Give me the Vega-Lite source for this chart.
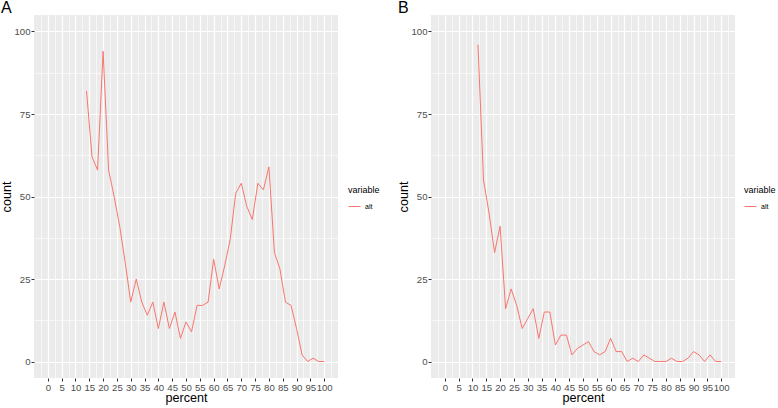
{
  "$schema": "https://vega.github.io/schema/vega-lite/v6.json",
  "padding": 0,
  "background": "white",
  "spacing": 17,
  "datasets": {
    "A": [
      {"percent": 14, "count": 82, "variable": "alt"},
      {"percent": 16, "count": 62, "variable": "alt"},
      {"percent": 18, "count": 58, "variable": "alt"},
      {"percent": 20, "count": 94, "variable": "alt"},
      {"percent": 22, "count": 58, "variable": "alt"},
      {"percent": 24, "count": 50, "variable": "alt"},
      {"percent": 26, "count": 41, "variable": "alt"},
      {"percent": 28, "count": 30, "variable": "alt"},
      {"percent": 30, "count": 18, "variable": "alt"},
      {"percent": 32, "count": 25, "variable": "alt"},
      {"percent": 34, "count": 18, "variable": "alt"},
      {"percent": 36, "count": 14, "variable": "alt"},
      {"percent": 38, "count": 18, "variable": "alt"},
      {"percent": 40, "count": 10, "variable": "alt"},
      {"percent": 42, "count": 18, "variable": "alt"},
      {"percent": 44, "count": 10, "variable": "alt"},
      {"percent": 46, "count": 15, "variable": "alt"},
      {"percent": 48, "count": 7, "variable": "alt"},
      {"percent": 50, "count": 12, "variable": "alt"},
      {"percent": 52, "count": 9, "variable": "alt"},
      {"percent": 54, "count": 17, "variable": "alt"},
      {"percent": 56, "count": 17, "variable": "alt"},
      {"percent": 58, "count": 18, "variable": "alt"},
      {"percent": 60, "count": 31, "variable": "alt"},
      {"percent": 62, "count": 22, "variable": "alt"},
      {"percent": 64, "count": 29, "variable": "alt"},
      {"percent": 66, "count": 37, "variable": "alt"},
      {"percent": 68, "count": 51, "variable": "alt"},
      {"percent": 70, "count": 54, "variable": "alt"},
      {"percent": 72, "count": 47, "variable": "alt"},
      {"percent": 74, "count": 43, "variable": "alt"},
      {"percent": 76, "count": 54, "variable": "alt"},
      {"percent": 78, "count": 52, "variable": "alt"},
      {"percent": 80, "count": 59, "variable": "alt"},
      {"percent": 82, "count": 33, "variable": "alt"},
      {"percent": 84, "count": 28, "variable": "alt"},
      {"percent": 86, "count": 18, "variable": "alt"},
      {"percent": 88, "count": 17, "variable": "alt"},
      {"percent": 90, "count": 10, "variable": "alt"},
      {"percent": 92, "count": 2, "variable": "alt"},
      {"percent": 94, "count": 0, "variable": "alt"},
      {"percent": 96, "count": 1, "variable": "alt"},
      {"percent": 98, "count": 0, "variable": "alt"},
      {"percent": 100, "count": 0, "variable": "alt"}
    ],
    "B": [
      {"percent": 12, "count": 96, "variable": "alt"},
      {"percent": 14, "count": 55, "variable": "alt"},
      {"percent": 16, "count": 45, "variable": "alt"},
      {"percent": 18, "count": 33, "variable": "alt"},
      {"percent": 20, "count": 41, "variable": "alt"},
      {"percent": 22, "count": 16, "variable": "alt"},
      {"percent": 24, "count": 22, "variable": "alt"},
      {"percent": 26, "count": 17, "variable": "alt"},
      {"percent": 28, "count": 10, "variable": "alt"},
      {"percent": 30, "count": 13, "variable": "alt"},
      {"percent": 32, "count": 16, "variable": "alt"},
      {"percent": 34, "count": 7, "variable": "alt"},
      {"percent": 36, "count": 15, "variable": "alt"},
      {"percent": 38, "count": 15, "variable": "alt"},
      {"percent": 40, "count": 5, "variable": "alt"},
      {"percent": 42, "count": 8, "variable": "alt"},
      {"percent": 44, "count": 8, "variable": "alt"},
      {"percent": 46, "count": 2, "variable": "alt"},
      {"percent": 48, "count": 4, "variable": "alt"},
      {"percent": 50, "count": 5, "variable": "alt"},
      {"percent": 52, "count": 6, "variable": "alt"},
      {"percent": 54, "count": 3, "variable": "alt"},
      {"percent": 56, "count": 2, "variable": "alt"},
      {"percent": 58, "count": 3, "variable": "alt"},
      {"percent": 60, "count": 7, "variable": "alt"},
      {"percent": 62, "count": 3, "variable": "alt"},
      {"percent": 64, "count": 3, "variable": "alt"},
      {"percent": 66, "count": 0, "variable": "alt"},
      {"percent": 68, "count": 1, "variable": "alt"},
      {"percent": 70, "count": 0, "variable": "alt"},
      {"percent": 72, "count": 2, "variable": "alt"},
      {"percent": 74, "count": 1, "variable": "alt"},
      {"percent": 76, "count": 0, "variable": "alt"},
      {"percent": 78, "count": 0, "variable": "alt"},
      {"percent": 80, "count": 0, "variable": "alt"},
      {"percent": 82, "count": 1, "variable": "alt"},
      {"percent": 84, "count": 0, "variable": "alt"},
      {"percent": 86, "count": 0, "variable": "alt"},
      {"percent": 88, "count": 1, "variable": "alt"},
      {"percent": 90, "count": 3, "variable": "alt"},
      {"percent": 92, "count": 2, "variable": "alt"},
      {"percent": 94, "count": 0, "variable": "alt"},
      {"percent": 96, "count": 2, "variable": "alt"},
      {"percent": 98, "count": 0, "variable": "alt"},
      {"percent": 100, "count": 0, "variable": "alt"}
    ]
  },
  "hconcat": [
    {
      "title": {"text": "A"},
      "width": 304,
      "height": 363,
      "data": {"name": "A"},
      "mark": {"type": "line", "strokeWidth": 1},
      "encoding": {
        "x": {
          "field": "percent", "type": "quantitative",
          "scale": {"domain": [-5, 105], "nice": false, "zero": false},
          "axis": {
            "title": "percent",
            "values": [-2.5, 0, 2.5, 5, 7.5, 10, 12.5, 15, 17.5, 20, 22.5, 25, 27.5, 30, 32.5, 35, 37.5, 40, 42.5, 45, 47.5, 50, 52.5, 55, 57.5, 60, 62.5, 65, 67.5, 70, 72.5, 75, 77.5, 80, 82.5, 85, 87.5, 90, 92.5, 95, 97.5, 100, 102.5],
            "labelExpr": "datum.value % 5 === 0 ? format(datum.value, 'd') : ''",
            "gridWidth": {"condition": {"test": "datum.value % 5 === 0", "value": 1.2}, "value": 0.6},
            "tickColor": {"condition": {"test": "datum.value % 5 === 0", "value": "#333333"}, "value": "transparent"}
          }
        },
        "y": {
          "field": "count", "type": "quantitative",
          "scale": {"domain": [-5, 105], "nice": false, "zero": false},
          "axis": {
            "title": "count",
            "titlePadding": 0,
            "values": [0, 12.5, 25, 37.5, 50, 62.5, 75, 87.5, 100],
            "labelExpr": "datum.value % 25 === 0 ? format(datum.value, 'd') : ''",
            "gridWidth": {"condition": {"test": "datum.value % 25 === 0", "value": 1.2}, "value": 0.6},
            "tickColor": {"condition": {"test": "datum.value % 25 === 0", "value": "#333333"}, "value": "transparent"}
          }
        },
        "color": {
          "field": "variable", "type": "nominal",
          "scale": {"range": ["#F8766D"]},
          "legend": {"title": "variable", "orient": "none", "legendX": 314, "legendY": 171}
        }
      }
    },
    {
      "title": {"text": "B"},
      "width": 304,
      "height": 363,
      "data": {"name": "B"},
      "mark": {"type": "line", "strokeWidth": 1},
      "encoding": {
        "x": {
          "field": "percent", "type": "quantitative",
          "scale": {"domain": [-5, 105], "nice": false, "zero": false},
          "axis": {
            "title": "percent",
            "values": [-2.5, 0, 2.5, 5, 7.5, 10, 12.5, 15, 17.5, 20, 22.5, 25, 27.5, 30, 32.5, 35, 37.5, 40, 42.5, 45, 47.5, 50, 52.5, 55, 57.5, 60, 62.5, 65, 67.5, 70, 72.5, 75, 77.5, 80, 82.5, 85, 87.5, 90, 92.5, 95, 97.5, 100, 102.5],
            "labelExpr": "datum.value % 5 === 0 ? format(datum.value, 'd') : ''",
            "gridWidth": {"condition": {"test": "datum.value % 5 === 0", "value": 1.2}, "value": 0.6},
            "tickColor": {"condition": {"test": "datum.value % 5 === 0", "value": "#333333"}, "value": "transparent"}
          }
        },
        "y": {
          "field": "count", "type": "quantitative",
          "scale": {"domain": [-5, 105], "nice": false, "zero": false},
          "axis": {
            "title": "count",
            "titlePadding": 0,
            "values": [0, 12.5, 25, 37.5, 50, 62.5, 75, 87.5, 100],
            "labelExpr": "datum.value % 25 === 0 ? format(datum.value, 'd') : ''",
            "gridWidth": {"condition": {"test": "datum.value % 25 === 0", "value": 1.2}, "value": 0.6},
            "tickColor": {"condition": {"test": "datum.value % 25 === 0", "value": "#333333"}, "value": "transparent"}
          }
        },
        "color": {
          "field": "variable", "type": "nominal",
          "scale": {"range": ["#F8766D"]},
          "legend": {"title": "variable", "orient": "none", "legendX": 313, "legendY": 171}
        }
      }
    }
  ],
  "resolve": {"scale": {"color": "independent"}, "legend": {"color": "independent"}},
  "config": {
    "font": "Liberation Sans",
    "view": {"stroke": null, "fill": "#ebebeb"},
    "title": {"anchor": "start", "frame": "bounds", "fontSize": 16, "fontWeight": "normal", "color": "black", "offset": -1},
    "axis": {
      "domain": false,
      "labelFont": "Liberation Sans",
      "labelFontSize": 9.6,
      "labelColor": "#4d4d4d",
      "labelOverlap": false,
      "labelBound": false,
      "labelFlush": false,
      "labelPadding": 1,
      "tickSize": 3,
      "tickWidth": 1,
      "gridColor": "white",
      "gridOpacity": 1,
      "titleFont": "Liberation Sans",
      "titleFontSize": 12.6,
      "titleFontWeight": "normal",
      "titleColor": "black",
      "titlePadding": 0
    },
    "legend": {
      "titleFont": "Liberation Sans",
      "titleFontSize": 9,
      "titleFontWeight": "normal",
      "titleColor": "black",
      "labelFont": "Liberation Sans",
      "labelFontSize": 7,
      "labelColor": "black",
      "symbolType": "stroke",
      "symbolSize": 144,
      "symbolStrokeWidth": 1
    }
  }
}
